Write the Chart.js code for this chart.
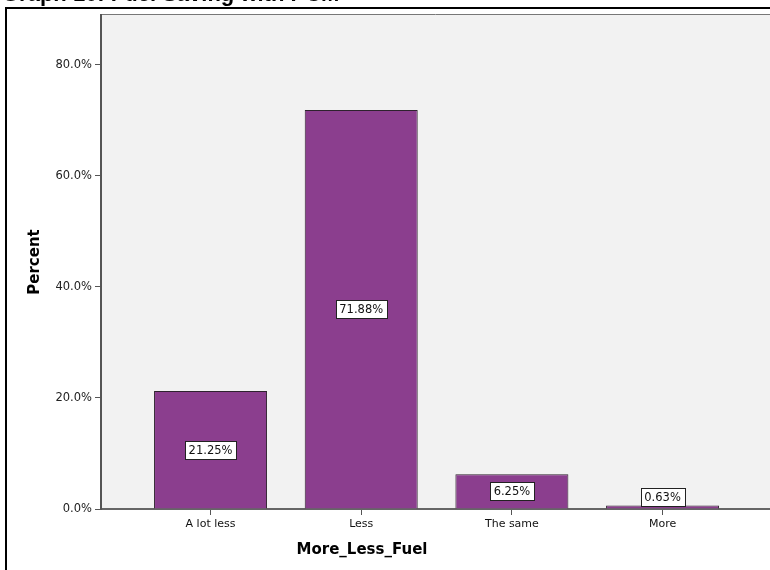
<!DOCTYPE html>
<html>
<head>
<meta charset="utf-8">
<script src="https://cdn.jsdelivr.net/npm/chart.js@4.4.1/dist/chart.umd.min.js"></script>
<style>
    html, body { margin: 0; padding: 0; background: #fff; }
    #wrap { position: relative; width: 770px; height: 570px; overflow: hidden; }
    #graphTitle {
        position: absolute; left: 2px; top: -17px; z-index: 2;
        font: bold 22px "Liberation Sans", Arial, sans-serif; line-height: 22px;
        color: #000; white-space: nowrap;
    }
    canvas { position: absolute; left: 0; top: 0; }
</style>
</head>
<body>
<div id="wrap">
    <div id="graphTitle">Graph 10: Fuel Saving with PCM</div>
    <canvas id="fuelChart" width="770" height="570"></canvas>
</div>
<script>
const categories = ['A lot less', 'Less', 'The same', 'More'];
const percentValues = [21.25, 71.88, 6.25, 0.63];
const yTicks = [0, 20, 40, 60, 80];

const uiFont = '"DejaVu Sans", Verdana, sans-serif';

// frame + grey plot background
const backdrop = {
    id: 'backdrop',
    beforeDraw(chart) {
        const ctx = chart.ctx;
        const a = chart.chartArea;
        ctx.save();
        ctx.fillStyle = '#000';
        ctx.fillRect(5, 7, 765, 2);
        ctx.fillRect(5, 7, 2, 563);
        ctx.fillStyle = '#f2f2f2';
        ctx.fillRect(a.left, a.top, a.right - a.left, a.bottom - a.top);
        ctx.strokeStyle = '#777';
        ctx.lineWidth = 1;
        ctx.beginPath();
        ctx.moveTo(a.left, a.top - 0.5);
        ctx.lineTo(a.right, a.top - 0.5);
        ctx.stroke();
        ctx.restore();
    }
};

// boxed percentage labels and x axis title
const barLabels = {
    id: 'barLabels',
    afterDatasetsDraw(chart) {
        const ctx = chart.ctx;
        const meta = chart.getDatasetMeta(0);
        ctx.save();
        ctx.font = '11.5px ' + uiFont;
        ctx.textAlign = 'center';
        ctx.textBaseline = 'middle';
        meta.data.forEach((bar, i) => {
            const txt = percentValues[i].toFixed(2) + '%';
            const w = Math.round(ctx.measureText(txt).width) + 7;
            const h = 18;
            let cy = (bar.y + bar.base) / 2;
            cy = Math.min(cy, bar.base - h / 2 - 3);
            const x0 = Math.round(bar.x - w / 2) + 0.5;
            const y0 = Math.round(cy - h / 2) + 0.5;
            ctx.fillStyle = '#fff';
            ctx.fillRect(x0, y0, w, h);
            ctx.strokeStyle = '#222';
            ctx.lineWidth = 1;
            ctx.strokeRect(x0, y0, w, h);
            ctx.fillStyle = '#111';
            ctx.fillText(txt, bar.x, y0 + h / 2 + 0.5);
        });
        ctx.font = 'bold 15px ' + uiFont;
        ctx.fillStyle = '#000';
        ctx.fillText('More_Less_Fuel', 362, 550);
        ctx.restore();
    }
};

new Chart(document.getElementById('fuelChart'), {
    type: 'bar',
    data: {
        datasets: [{
            data: percentValues.map((v, i) => ({ x: i, y: v })),
            backgroundColor: '#8b3e8e',
            borderColor: '#2e222e',
            borderWidth: 1,
            categoryPercentage: 1,
            barPercentage: 0.75
        }]
    },
    plugins: [backdrop, barLabels],
    options: {
        responsive: false,
        animation: false,
        layout: { padding: { left: 0, right: 0, top: 15, bottom: 0 } },
        plugins: {
            legend: { display: false },
            tooltip: { enabled: false }
        },
        scales: {
            x: {
                type: 'linear',
                offset: false,
                min: -0.727,
                max: 3.713,
                afterFit(scale) { scale.height = 61; },
                afterBuildTicks(scale) {
                    scale.ticks = categories.map((c, i) => ({ value: i }));
                },
                grid: { offset: false, drawOnChartArea: false, drawTicks: true, tickLength: 6, color: '#555', lineWidth: 1 },
                border: { display: true, color: '#666', width: 2 },
                ticks: {
                    autoSkip: false,
                    maxRotation: 0,
                    padding: 3,
                    color: '#111',
                    font: { family: uiFont, size: 11 },
                    callback: (v) => categories[v]
                }
            },
            y: {
                min: 0,
                max: 89,
                afterFit(scale) { scale.width = 101; },
                afterBuildTicks(scale) {
                    scale.ticks = yTicks.map(v => ({ value: v }));
                },
                grid: { drawOnChartArea: false, drawTicks: true, tickLength: 6, color: '#555', lineWidth: 1 },
                border: { display: true, color: '#555', width: 2 },
                title: {
                    display: true,
                    text: 'Percent',
                    color: '#000',
                    font: { family: uiFont, size: 15, weight: 'bold' },
                    padding: { top: 26, bottom: 0 }
                },
                ticks: {
                    padding: 3,
                    color: '#222',
                    font: { family: uiFont, size: 11.5 },
                    callback: (v) => v.toFixed(1) + '%'
                }
            }
        }
    }
});
</script>
</body>
</html>
